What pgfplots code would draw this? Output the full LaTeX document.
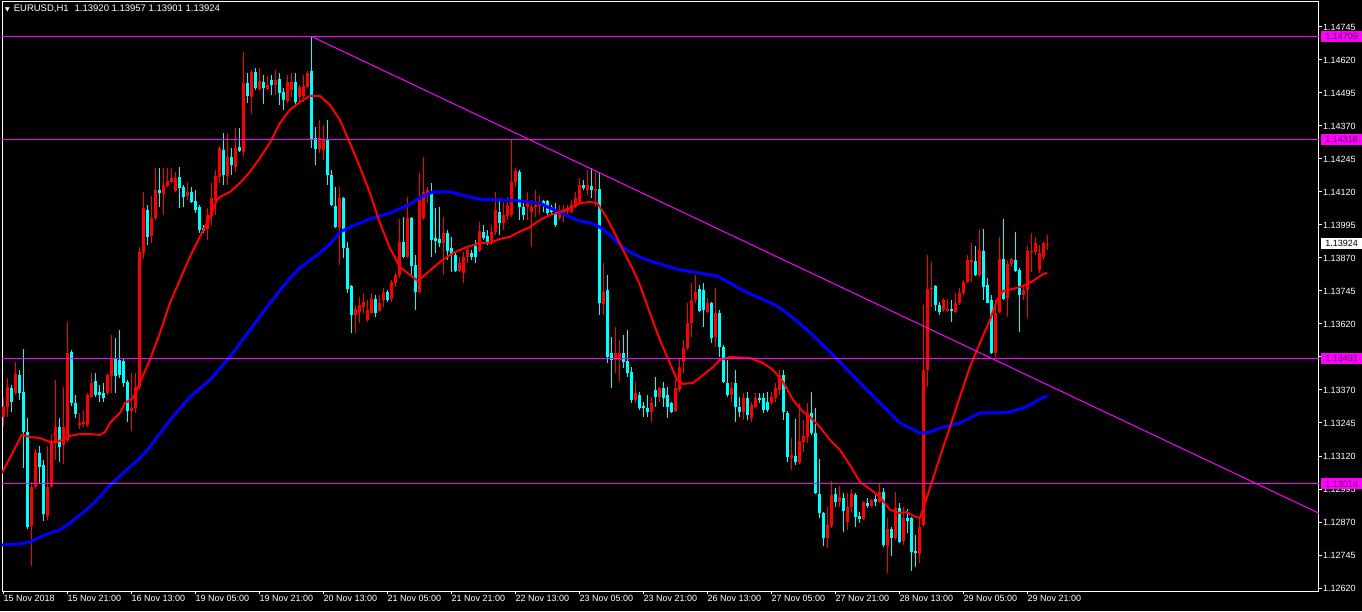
\documentclass[border=0pt]{standalone}
\usepackage{pgfplots}
\pgfplotsset{compat=1.18}
\usepackage{pgfplotstable}
\usepackage{fontspec}
\setmainfont{Liberation Sans}
\newfontfamily\dejavu{DejaVu Sans}
\definecolor{bull}{RGB}{255,0,0}
\definecolor{bear}{RGB}{0,255,255}
\definecolor{maR}{RGB}{255,0,0}
\definecolor{maB}{RGB}{0,0,255}
\definecolor{mag}{RGB}{255,0,255}
\definecolor{boxtext}{RGB}{90,0,90}

\pgfplotstableread{
i o h l c
0 1.13268 1.13340 1.13234 1.13306
1 1.13306 1.13415 1.13268 1.13381
2 1.13378 1.13389 1.13287 1.13324
3 1.13359 1.13476 1.13351 1.13431
4 1.13427 1.13446 1.13332 1.13359
5 1.13362 1.13525 1.13075 1.13211
6 1.13211 1.13264 1.12844 1.12851
7 1.12855 1.13022 1.12703 1.13003
8 1.13003 1.13147 1.12995 1.13135
9 1.13131 1.13158 1.13014 1.13078
10 1.13086 1.13105 1.12874 1.12900
11 1.12893 1.13158 1.12878 1.13003
12 1.13006 1.13203 1.12999 1.13177
13 1.13177 1.13408 1.13105 1.13230
14 1.13230 1.13264 1.13097 1.13154
15 1.13162 1.13381 1.13090 1.13230
16 1.13181 1.13628 1.13173 1.13510
17 1.13514 1.13521 1.13309 1.13321
18 1.13321 1.13351 1.13264 1.13279
19 1.13238 1.13283 1.13222 1.13245
20 1.13241 1.13294 1.13230 1.13249
21 1.13238 1.13359 1.13230 1.13351
22 1.13344 1.13434 1.13340 1.13397
23 1.13404 1.13434 1.13344 1.13351
24 1.13362 1.13389 1.13324 1.13351
25 1.13359 1.13397 1.13324 1.13340
26 1.13359 1.13434 1.13351 1.13427
27 1.13423 1.13578 1.13359 1.13491
28 1.13491 1.13567 1.13359 1.13423
29 1.13484 1.13597 1.13415 1.13427
30 1.13480 1.13487 1.13381 1.13397
31 1.13400 1.13408 1.13249 1.13290
32 1.13290 1.13434 1.13215 1.13302
33 1.13302 1.13434 1.13283 1.13381
34 1.13381 1.13912 1.13370 1.13893
35 1.13889 1.14120 1.13866 1.14059
36 1.14052 1.14071 1.13919 1.13950
37 1.13953 1.14105 1.13927 1.14022
38 1.14022 1.14211 1.14014 1.14128
39 1.14128 1.14211 1.14063 1.14116
40 1.14112 1.14211 1.14033 1.14147
41 1.14143 1.14211 1.14139 1.14162
42 1.14158 1.14211 1.14154 1.14173
43 1.14124 1.14196 1.14120 1.14173
44 1.14177 1.14215 1.14059 1.14135
45 1.14139 1.14147 1.14063 1.14101
46 1.14105 1.14158 1.14090 1.14120
47 1.14120 1.14139 1.14078 1.14082
48 1.14086 1.14128 1.14040 1.14052
49 1.14063 1.14070 1.13965 1.13976
50 1.13984 1.13995 1.13965 1.13972
51 1.13980 1.14059 1.13938 1.14033
52 1.14029 1.14154 1.13995 1.14097
53 1.14090 1.14203 1.14033 1.14181
54 1.14177 1.14294 1.14154 1.14287
55 1.14279 1.14343 1.14147 1.14184
56 1.14181 1.14343 1.14147 1.14253
57 1.14253 1.14287 1.14184 1.14222
58 1.14215 1.14362 1.14196 1.14287
59 1.14290 1.14362 1.14272 1.14275
60 1.14272 1.14650 1.14253 1.14533
61 1.14533 1.14571 1.14457 1.14484
62 1.14480 1.14582 1.14415 1.14574
63 1.14574 1.14590 1.14506 1.14514
64 1.14510 1.14590 1.14506 1.14540
65 1.14537 1.14563 1.14453 1.14514
66 1.14510 1.14559 1.14506 1.14525
67 1.14544 1.14563 1.14488 1.14525
68 1.14525 1.14582 1.14488 1.14544
69 1.14548 1.14571 1.14450 1.14495
70 1.14499 1.14514 1.14431 1.14469
71 1.14465 1.14563 1.14457 1.14537
72 1.14506 1.14571 1.14480 1.14537
73 1.14537 1.14571 1.14450 1.14461
74 1.14480 1.14525 1.14457 1.14518
75 1.14484 1.14563 1.14461 1.14522
76 1.14518 1.14578 1.14514 1.14571
77 1.14578 1.14709 1.14287 1.14317
78 1.14325 1.14366 1.14222 1.14283
79 1.14283 1.14393 1.14268 1.14325
80 1.14279 1.14374 1.14241 1.14317
81 1.14317 1.14393 1.14147 1.14184
82 1.14184 1.14203 1.14067 1.14071
83 1.14067 1.14139 1.13984 1.13987
84 1.13984 1.14139 1.13844 1.14097
85 1.14097 1.14101 1.13870 1.13908
86 1.13908 1.13931 1.13737 1.13756
87 1.13764 1.13768 1.13586 1.13654
88 1.13654 1.13692 1.13586 1.13677
89 1.13665 1.13722 1.13624 1.13692
90 1.13684 1.13737 1.13662 1.13703
91 1.13635 1.13711 1.13628 1.13673
92 1.13665 1.13737 1.13662 1.13718
93 1.13718 1.13730 1.13646 1.13665
94 1.13669 1.13730 1.13665 1.13699
95 1.13711 1.13756 1.13684 1.13737
96 1.13741 1.13749 1.13703 1.13711
97 1.13715 1.13787 1.13703 1.13779
98 1.13775 1.13813 1.13760 1.13806
99 1.13806 1.14018 1.13794 1.13931
100 1.13931 1.14025 1.13870 1.13874
101 1.13874 1.14101 1.13870 1.14022
102 1.14022 1.14025 1.13798 1.13840
103 1.13844 1.13881 1.13673 1.13741
104 1.13741 1.14192 1.13737 1.14090
105 1.14022 1.14253 1.14014 1.14120
106 1.14116 1.14139 1.14078 1.14128
107 1.14120 1.14154 1.13874 1.13938
108 1.13946 1.14059 1.13889 1.13934
109 1.13942 1.14063 1.13912 1.13927
110 1.13927 1.14025 1.13806 1.13965
111 1.13965 1.13976 1.13862 1.13897
112 1.13908 1.13950 1.13817 1.13881
113 1.13881 1.13889 1.13817 1.13821
114 1.13821 1.13874 1.13817 1.13851
115 1.13813 1.13893 1.13775 1.13874
116 1.13874 1.13912 1.13851 1.13900
117 1.13889 1.13900 1.13862 1.13874
118 1.13916 1.13938 1.13851 1.13874
119 1.13897 1.14006 1.13893 1.13972
120 1.13968 1.13995 1.13938 1.13946
121 1.13953 1.13976 1.13919 1.13927
122 1.13927 1.13995 1.13919 1.13968
123 1.13968 1.14120 1.13957 1.14052
124 1.14044 1.14097 1.13957 1.14003
125 1.14003 1.14082 1.13976 1.14033
126 1.14029 1.14101 1.14014 1.14071
127 1.14033 1.14317 1.14025 1.14158
128 1.14158 1.14211 1.14139 1.14199
129 1.14196 1.14203 1.14014 1.14063
130 1.14063 1.14078 1.14014 1.14033
131 1.14063 1.14120 1.14014 1.14078
132 1.14044 1.14090 1.13912 1.14063
133 1.14063 1.14128 1.14025 1.14071
134 1.14067 1.14109 1.14033 1.14082
135 1.14086 1.14090 1.14044 1.14074
136 1.14086 1.14090 1.14033 1.14040
137 1.14063 1.14071 1.14033 1.14044
138 1.14040 1.14078 1.13987 1.13995
139 1.14022 1.14071 1.14014 1.14040
140 1.14040 1.14071 1.14006 1.14052
141 1.14044 1.14071 1.14033 1.14059
142 1.14044 1.14090 1.14040 1.14071
143 1.14063 1.14120 1.14059 1.14097
144 1.14082 1.14173 1.14078 1.14147
145 1.14147 1.14166 1.14128 1.14135
146 1.14128 1.14203 1.14109 1.14147
147 1.14143 1.14211 1.14097 1.14128
148 1.14124 1.14192 1.14063 1.14131
149 1.14131 1.14196 1.13654 1.13699
150 1.13699 1.13851 1.13654 1.13745
151 1.13749 1.13806 1.13472 1.13495
152 1.13510 1.13571 1.13378 1.13484
153 1.13484 1.13609 1.13434 1.13510
154 1.13484 1.13559 1.13400 1.13510
155 1.13510 1.13578 1.13453 1.13476
156 1.13480 1.13597 1.13419 1.13434
157 1.13438 1.13457 1.13321 1.13332
158 1.13332 1.13400 1.13321 1.13359
159 1.13351 1.13362 1.13294 1.13302
160 1.13309 1.13324 1.13268 1.13302
161 1.13302 1.13351 1.13268 1.13287
162 1.13290 1.13344 1.13249 1.13321
163 1.13370 1.13419 1.13306 1.13344
164 1.13344 1.13381 1.13324 1.13378
165 1.13378 1.13400 1.13306 1.13340
166 1.13351 1.13381 1.13264 1.13306
167 1.13321 1.13324 1.13283 1.13287
168 1.13290 1.13408 1.13287 1.13378
169 1.13370 1.13491 1.13362 1.13457
170 1.13476 1.13559 1.13434 1.13529
171 1.13529 1.13699 1.13521 1.13624
172 1.13624 1.13775 1.13571 1.13711
173 1.13711 1.13806 1.13699 1.13741
174 1.13753 1.13768 1.13665 1.13669
175 1.13749 1.13775 1.13609 1.13673
176 1.13665 1.13718 1.13662 1.13699
177 1.13699 1.13703 1.13548 1.13567
178 1.13571 1.13756 1.13533 1.13662
179 1.13662 1.13673 1.13495 1.13533
180 1.13533 1.13540 1.13397 1.13400
181 1.13397 1.13484 1.13344 1.13351
182 1.13351 1.13400 1.13324 1.13378
183 1.13397 1.13446 1.13249 1.13306
184 1.13306 1.13344 1.13268 1.13287
185 1.13287 1.13359 1.13256 1.13340
186 1.13340 1.13362 1.13256 1.13275
187 1.13264 1.13324 1.13249 1.13313
188 1.13306 1.13359 1.13302 1.13340
189 1.13340 1.13359 1.13321 1.13332
190 1.13340 1.13359 1.13283 1.13294
191 1.13324 1.13362 1.13287 1.13294
192 1.13321 1.13362 1.13313 1.13344
193 1.13340 1.13397 1.13324 1.13378
194 1.13370 1.13446 1.13351 1.13427
195 1.13427 1.13446 1.13256 1.13287
196 1.13283 1.13290 1.13097 1.13116
197 1.13112 1.13188 1.13067 1.13124
198 1.13120 1.13260 1.13086 1.13097
199 1.13093 1.13321 1.13090 1.13177
200 1.13173 1.13256 1.13135 1.13196
201 1.13192 1.13321 1.13169 1.13283
202 1.13283 1.13362 1.13200 1.13207
203 1.13207 1.13302 1.12976 1.12980
204 1.12976 1.13109 1.12885 1.12904
205 1.12904 1.12908 1.12779 1.12809
206 1.12809 1.12927 1.12771 1.12859
207 1.12855 1.13025 1.12847 1.12972
208 1.12976 1.12999 1.12927 1.12946
209 1.12946 1.13006 1.12927 1.12965
210 1.12961 1.12980 1.12832 1.12912
211 1.12870 1.12980 1.12840 1.12927
212 1.12927 1.12995 1.12908 1.12976
213 1.12972 1.12980 1.12851 1.12889
214 1.12893 1.12908 1.12866 1.12881
215 1.12881 1.12950 1.12878 1.12946
216 1.12942 1.12961 1.12923 1.12931
217 1.12931 1.12957 1.12927 1.12953
218 1.12957 1.12972 1.12931 1.12946
219 1.12946 1.13014 1.12942 1.12984
220 1.12984 1.12999 1.12775 1.12783
221 1.12779 1.12885 1.12677 1.12844
222 1.12844 1.12851 1.12741 1.12809
223 1.12809 1.12984 1.12802 1.12923
224 1.12923 1.12942 1.12790 1.12794
225 1.12798 1.12927 1.12783 1.12885
226 1.12885 1.12919 1.12828 1.12874
227 1.12885 1.12889 1.12684 1.12756
228 1.12760 1.12821 1.12700 1.12752
229 1.12752 1.12889 1.12715 1.12851
230 1.12859 1.13692 1.12851 1.13446
231 1.13446 1.13881 1.13381 1.13753
232 1.13753 1.13855 1.13684 1.13756
233 1.13764 1.13768 1.13669 1.13692
234 1.13692 1.13703 1.13654 1.13665
235 1.13673 1.13718 1.13665 1.13711
236 1.13669 1.13715 1.13665 1.13677
237 1.13677 1.13711 1.13628 1.13669
238 1.13665 1.13737 1.13662 1.13699
239 1.13699 1.13756 1.13692 1.13737
240 1.13737 1.13787 1.13730 1.13779
241 1.13779 1.13881 1.13775 1.13862
242 1.13855 1.13927 1.13779 1.13862
243 1.13859 1.13916 1.13802 1.13806
244 1.13806 1.13976 1.13798 1.13900
245 1.13897 1.13980 1.13711 1.13760
246 1.13768 1.13794 1.13699 1.13699
247 1.13711 1.13730 1.13506 1.13510
248 1.13510 1.13711 1.13495 1.13665
249 1.13665 1.13950 1.13662 1.13866
250 1.13866 1.14018 1.13711 1.13715
251 1.13718 1.13862 1.13646 1.13847
252 1.13847 1.13870 1.13836 1.13866
253 1.13862 1.13968 1.13817 1.13821
254 1.13825 1.13832 1.13590 1.13730
255 1.13730 1.13768 1.13711 1.13749
256 1.13749 1.13916 1.13643 1.13897
257 1.13893 1.13965 1.13817 1.13897
258 1.13893 1.13950 1.13881 1.13927
259 1.13825 1.13919 1.13813 1.13889
260 1.13874 1.13931 1.13862 1.13927
261 1.13920 1.13957 1.13901 1.13924
}\candles
\pgfplotstablecreatecol[create col/expr={\thisrow{c}>=\thisrow{o}}]{up}\candles

\begin{document}
\begin{tikzpicture}
\fill[black] (0,0) rectangle (1362pt,611pt);
\path[use as bounding box] (0,0) rectangle (1362pt,611pt);
\begin{axis}[
  at={(2pt,20pt)}, anchor=south west,
  scale only axis, width=1317pt, height=589pt,
  xmin=-0.375, xmax=328.875,
  ymin=1.1260863, ymax=1.1483969,
  enlargelimits=false,
  axis background/.style={fill=black},
  axis line style={white, line width=1pt},
  tick style={white, line width=1pt},
  tick align=outside, major tick length=3pt,
  xtick pos=left, ytick pos=right,
  xticklabel pos=left, yticklabel pos=right,
  xtick={0,16,32,48,64,80,96,112,128,144,160,176,192,208,224,240,256},
  xticklabels={15 Nov 2018,15 Nov 21:00,16 Nov 13:00,19 Nov 05:00,19 Nov 21:00,20 Nov 13:00,21 Nov 05:00,21 Nov 21:00,22 Nov 13:00,23 Nov 05:00,23 Nov 21:00,26 Nov 13:00,27 Nov 05:00,27 Nov 21:00,28 Nov 13:00,29 Nov 05:00,29 Nov 21:00},
  xticklabel style={anchor=north west, text=white, font=\fontsize{9}{10}\selectfont, inner sep=1pt, xshift=-1pt},
  ytick={1.12620,1.12745,1.12870,1.12995,1.13120,1.13245,1.13370,1.13495,1.13620,1.13745,1.13870,1.13995,1.14120,1.14245,1.14370,1.14495,1.14620,1.14745},
  scaled y ticks=false,
  yticklabel={\pgfmathprintnumber[fixed,fixed zerofill,precision=5,assume math mode=true]{\tick}},
  yticklabel style={anchor=west, text=white, font=\fontsize{9}{10}\selectfont, inner sep=1pt},
]
% wicks (low to high)
\addplot[draw=bull, line width=1pt, mark=none, quiver={u=0, v={\thisrow{up}*(\thisrow{h}-\thisrow{l})}}]
  table[x=i, y=l] {\candles};
\addplot[draw=bear, line width=1pt, mark=none, quiver={u=0, v={(1-\thisrow{up})*(\thisrow{h}-\thisrow{l})}}]
  table[x=i, y=l] {\candles};
% bodies (open to close)
\addplot[draw=bull, line width=3pt, mark=none, quiver={u=0, v={\thisrow{up}*max(abs(\thisrow{c}-\thisrow{o}),0.00004)}}]
  table[x=i, y expr={(\thisrow{o}+\thisrow{c})/2-max(abs(\thisrow{c}-\thisrow{o}),0.00004)/2}] {\candles};
\addplot[draw=bear, line width=3pt, mark=none, quiver={u=0, v={(1-\thisrow{up})*max(abs(\thisrow{c}-\thisrow{o}),0.00004)}}]
  table[x=i, y expr={(\thisrow{o}+\thisrow{c})/2-max(abs(\thisrow{c}-\thisrow{o}),0.00004)/2}] {\candles};

% slow moving average (blue)
\addplot[maB, line width=3pt, no marks] coordinates {
(-0.4,1.12783) (4.1,1.12787) (6.6,1.12794) (9.1,1.12813) (11.6,1.12828) (14.1,1.12840) (16.6,1.12866) (19.1,1.12897) (21.6,1.12927) (24.1,1.12965) (26.6,1.13010) (29.1,1.13044) (31.6,1.13078) (34.1,1.13112) (36.6,1.13154) (37.9,1.13181) (41.6,1.13256) (46.6,1.13344) (51.6,1.13408) (56.6,1.13495) (61.6,1.13597) (66.6,1.13699) (71.6,1.13794) (74.1,1.13832) (76.6,1.13862) (79.1,1.13889) (81.6,1.13923) (84.1,1.13968) (86.6,1.13987) (91.6,1.14018) (96.6,1.14040) (101.6,1.14074) (104.9,1.14105) (107.4,1.14120) (111.6,1.14120) (116.6,1.14101) (119.1,1.14093) (124.1,1.14090) (129.1,1.14086) (134.1,1.14078) (136.6,1.14059) (139.1,1.14044) (141.6,1.14025) (144.1,1.14010) (146.6,1.14003) (149.1,1.13987) (151.6,1.13957) (154.1,1.13919) (156.6,1.13893) (159.1,1.13874) (161.6,1.13859) (169.1,1.13825) (174.1,1.13813) (178.4,1.13802) (181.6,1.13775) (184.1,1.13753) (189.1,1.13718) (192.4,1.13696) (194.9,1.13673) (197.4,1.13643) (200.9,1.13597) (204.1,1.13552) (209.1,1.13476) (213.4,1.13408) (219.1,1.13321) (221.6,1.13283) (224.1,1.13245) (226.6,1.13226) (229.1,1.13207) (231.6,1.13211) (234.1,1.13226) (239.1,1.13245) (241.6,1.13264) (244.1,1.13283) (246.6,1.13283) (249.1,1.13283) (251.6,1.13287) (254.1,1.13298) (256.6,1.13313) (259.1,1.13336) (260.9,1.13347)
};
% fast moving average (red)
\addplot[maR, line width=2pt, no marks] coordinates {
(-0.4,1.13055) (4.6,1.13200) (6.6,1.13192) (9.1,1.13188) (11.6,1.13173) (13.4,1.13173) (14.9,1.13184) (16.6,1.13196) (19.1,1.13203) (21.6,1.13203) (24.1,1.13200) (25.4,1.13211) (26.6,1.13245) (29.1,1.13283) (30.4,1.13321) (32.4,1.13340) (34.1,1.13397) (36.6,1.13484) (39.1,1.13586) (41.6,1.13699) (44.1,1.13787) (46.6,1.13874) (49.1,1.13950) (51.6,1.14025) (53.4,1.14090) (54.1,1.14101) (56.6,1.14120) (59.1,1.14154) (61.6,1.14196) (64.1,1.14249) (66.6,1.14306) (69.1,1.14381) (71.6,1.14431) (74.1,1.14461) (76.6,1.14484) (79.1,1.14484) (81.6,1.14450) (84.1,1.14393) (86.6,1.14306) (89.1,1.14215) (91.6,1.14116) (94.1,1.14003) (96.6,1.13908) (99.1,1.13836) (101.6,1.13806) (103.6,1.13783) (105.9,1.13813) (109.1,1.13855) (112.4,1.13889) (115.9,1.13912) (119.1,1.13927) (121.6,1.13927) (124.1,1.13942) (126.6,1.13950) (128.4,1.13965) (131.6,1.13987) (134.1,1.14014) (136.6,1.14033) (139.1,1.14044) (141.6,1.14059) (144.1,1.14078) (146.6,1.14082) (148.4,1.14078) (150.4,1.14033) (152.4,1.13976) (154.9,1.13900) (157.4,1.13825) (159.1,1.13768) (161.6,1.13662) (164.1,1.13559) (166.6,1.13472) (168.4,1.13408) (169.9,1.13393) (172.4,1.13397) (174.9,1.13427) (177.4,1.13457) (179.1,1.13484) (181.6,1.13495) (186.6,1.13491) (189.9,1.13472) (192.4,1.13446) (194.9,1.13400) (197.4,1.13332) (199.9,1.13287) (201.6,1.13268) (204.1,1.13230) (206.6,1.13181) (209.1,1.13143) (211.6,1.13086) (214.1,1.13022) (216.6,1.12995) (219.1,1.12965) (221.6,1.12916) (224.1,1.12904) (225.9,1.12908) (227.4,1.12893) (229.1,1.12885) (230.4,1.12942) (234.1,1.13116) (236.6,1.13230) (239.1,1.13344) (241.6,1.13457) (244.1,1.13548) (246.6,1.13635) (248.4,1.13711) (249.9,1.13745) (252.4,1.13753) (254.9,1.13764) (257.4,1.13783) (259.9,1.13809) (260.9,1.13813)
};
% horizontal levels
\addplot[mag, line width=1pt, no marks] coordinates {(-0.375,1.14709) (328.875,1.14709)};
\addplot[mag, line width=1pt, no marks] coordinates {(-0.375,1.14318) (328.875,1.14318)};
\addplot[mag, line width=1pt, no marks] coordinates {(-0.375,1.13491) (328.875,1.13491)};
\addplot[mag, line width=1pt, no marks] coordinates {(-0.375,1.13014) (328.875,1.13014)};
% trend line
\addplot[mag, line width=1pt, no marks] coordinates {(77,1.14709) (328.875,1.12903)};

\coordinate (b1) at (axis cs:328.875,1.14709);
\coordinate (b2) at (axis cs:328.875,1.14318);
\coordinate (b3) at (axis cs:328.875,1.13924);
\coordinate (b4) at (axis cs:328.875,1.13491);
\coordinate (b5) at (axis cs:328.875,1.13014);
\end{axis}
\begin{scope}[every node/.style={anchor=west, inner xsep=0pt, inner ysep=0pt, minimum width=42pt, minimum height=11pt, font=\fontsize{9}{10}\selectfont}]
\node[fill=mag, text=boxtext] at ([xshift=1.5pt]b1) {1.14709};
\node[fill=mag, text=boxtext] at ([xshift=1.5pt]b2) {1.14318};
\node[fill=white, text=black] at ([xshift=1.5pt]b3) {1.13924};
\node[fill=mag, text=boxtext] at ([xshift=1.5pt]b4) {1.13491};
\node[fill=mag, text=boxtext] at ([xshift=1.5pt]b5) {1.13014};
\end{scope}
\node[anchor=west, text=white, inner sep=0pt, font=\fontsize{9.5}{10}\selectfont] at (5pt,602pt) {{\dejavu\fontsize{6}{6}\selectfont ▼}\hspace{4pt}EURUSD,H1\hspace{6pt}1.13920 1.13957 1.13901 1.13924};
\end{tikzpicture}
\end{document}
